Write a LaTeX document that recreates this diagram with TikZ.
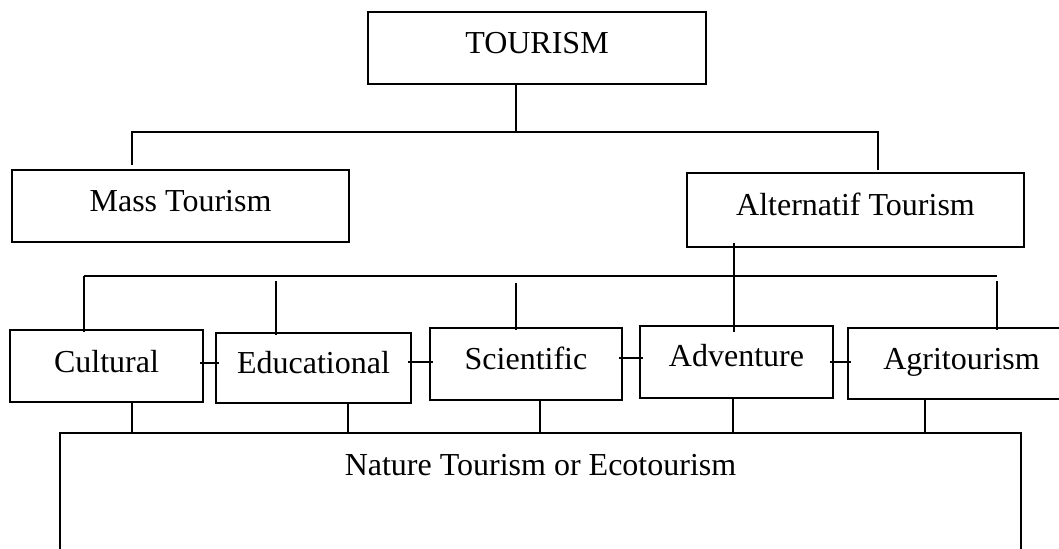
\documentclass[tikz,border=0pt]{standalone}
\usepackage{fontspec}
\setmainfont{Liberation Serif}
\begin{document}
\begin{tikzpicture}[
        % --- styles ---
        x=0.5pt, y=-0.5pt,
        every node/.style={font=\fontsize{16}{19}\selectfont},
        box/.style={draw, rectangle, line width=1pt, inner sep=0pt, text height=11pt, text depth=#1},
        box/.default=5.4pt,
        link/.style={line width=1pt},
        tick/.style={line width=1pt, shorten <=-2pt, shorten >=-2pt}
        % --------------
    ]
    \clip (0,0) rectangle (1059,548);

    % top
    \node[box=5.4pt, minimum width=169pt, minimum height=36pt] (tour) at (537,47.5) {TOURISM};

    % second level
    \node[box=5.9pt, minimum width=168.5pt, minimum height=36pt] (mass) at (180.5,206) {Mass Tourism};
    \node[box=5.4pt, minimum width=168.5pt, minimum height=37pt] (alt) at (855.5,210) {Alternatif Tourism};

    % kinds of alternative tourism
    \node[box=4.4pt, minimum width=96.5pt, minimum height=36pt] (cul) at (106.5,366) {Cultural};
    \node[box=5.4pt, minimum width=97.5pt, minimum height=35pt] (edu) at (313.5,368) {Educational};
    \node[box=5.9pt, minimum width=96pt, minimum height=36pt] (sci) at (526,364) {Scientific};
    \node[box=6.4pt, minimum width=96.5pt, minimum height=36pt] (adv) at (736.5,362) {Adventure};
    \node[box=4.9pt, minimum width=113.5pt, minimum height=35.5pt] (agr) at (961.5,363.5) {Agritourism};

    % bottom
    \node[draw, line width=1pt, inner sep=0pt, minimum width=480.5pt, text height=21.25pt, text depth=60pt, anchor=north] (eco) at (540.5,432) {Nature Tourism or Ecotourism};

    % tourism -> mass / alternatif
    \coordinate (j1) at (516,132);
    \draw[link] (tour.south -| j1) -- (j1);
    \draw[link, shorten <=2pt, shorten >=1pt] ([xshift=-24.25pt]mass.north) |- (j1) -| ([xshift=11.25pt]alt.north);

    % alternatif -> kinds
    \draw[link, shorten <=-2.5pt, shorten >=-3.5pt] ([xshift=-60.75pt]alt.south) -- ([xshift=-60.75pt]alt.south |- adv.north);
    \coordinate (bus) at (84,276);
    \draw[link] (bus) -- ([xshift=17.75pt]agr.north |- bus);
    \foreach \n/\dx/\g in {cul/-11.25pt/0pt, edu/-18.75pt/2.5pt, sci/-5pt/3.5pt, agr/17.75pt/2.5pt}
        \draw[link, shorten <=\g, shorten >=-1.5pt] ([xshift=\dx]\n.north |- bus) -- ([xshift=\dx]\n.north);

    % side ticks
    \draw[tick] ([yshift=1.5pt]cul.east) -- ([yshift=1.5pt]cul.east -| edu.west);
    \draw[tick] ([yshift=3pt]edu.east) -- ([yshift=3pt]edu.east -| sci.west);
    \draw[tick] ([yshift=3pt]sci.east) -- ([yshift=3pt]sci.east -| adv.west);
    \draw[tick] (adv.east) -- (adv.east -| agr.west);

    % kinds -> nature tourism
    \foreach \n/\dx in {cul/12.75pt, edu/17.25pt, sci/7pt, adv/-1.75pt, agr/-18.25pt}
        \draw[link] ([xshift=\dx]\n.south) -- ([xshift=\dx]\n.south |- eco.north);
\end{tikzpicture}
\end{document}
